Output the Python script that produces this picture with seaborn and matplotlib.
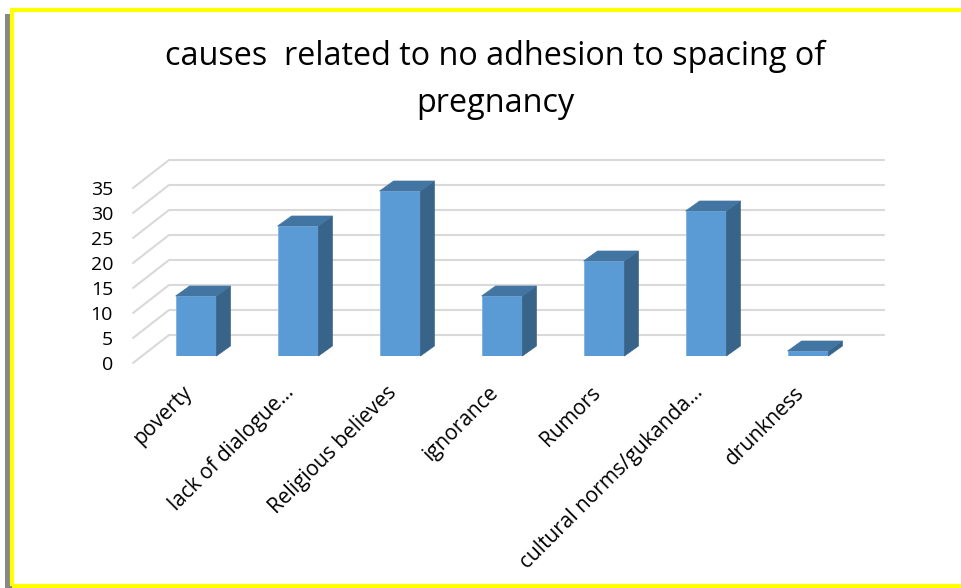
import matplotlib
matplotlib.use("Agg")
import matplotlib.pyplot as plt
import matplotlib.transforms as mtransforms
import seaborn as sns
import pandas as pd
from matplotlib.patches import Polygon, Rectangle

categories = ["poverty", "lack of dialogue…", "Religious believes", "ignorance",
              "Rumors", "cultural norms/gukanda…", "drunkness"]
values = [12, 26, 33, 12, 19, 29, 1]
yticks = [0, 5, 10, 15, 20, 25, 30, 35]
title = "causes  related to no adhesion to spacing of\npregnancy"

df = pd.DataFrame({"cause": categories, "count": values})

sns.set_style("white")
plt.rcParams["font.family"] = ["Open Sans", "DejaVu Sans"]
plt.rcParams["text.color"] = "black"
plt.rcParams["xtick.color"] = "black"
plt.rcParams["ytick.color"] = "black"

W, H = 962, 588
fig = plt.figure(figsize=(W / 100, H / 100), dpi=100)

# bar plane of the axes in pixels: x 145..859, y(0)=356, y(35)=181
ax = fig.add_axes([145 / W, (H - 356) / H, 714 / W, 175 / H])
ax.patch.set_alpha(0)
sns.barplot(data=df, x="cause", y="count", color="#5B9BD5", width=0.4,
            saturation=1, edgecolor="#7FB1E0", linewidth=0.6, ax=ax, zorder=3)
ax.set_xlim(-0.5, 6.5)
ax.set_ylim(0, 35)

px_x = 7 / 714   # data units per pixel
px_y = 35 / 175

# floor / back-wall gridlines (Excel 3-D look)
front_dy = -7 * px_y
gdx, gdy = 36 * px_x, 28 * px_y
x0 = -0.5 - 12 * px_x
x1 = -0.5 + (884 - 145) * px_x
for v in yticks:
    ax.plot([x0, x0 + gdx, x1], [v + front_dy, v + front_dy + gdy, v + front_dy + gdy],
            color="#D9D9D9", lw=1.5, clip_on=False, zorder=1)

# bar depth faces, derived from the seaborn patches
bdx, bdy = 14 * px_x, 10 * px_y
for p in ax.patches[:len(values)]:
    x, w, h = p.get_x(), p.get_width(), p.get_height()
    side = Polygon([(x + w, 0), (x + w + bdx, bdy), (x + w + bdx, h + bdy), (x + w, h)],
                   closed=True, facecolor="#386489", edgecolor="#386489", lw=0.5,
                   zorder=4, clip_on=False)
    top = Polygon([(x, h), (x + w, h), (x + w + bdx, h + bdy), (x + bdx, h + bdy)],
                  closed=True, facecolor="#4375A3", edgecolor="#4375A3", lw=0.5,
                  zorder=4, clip_on=False)
    ax.add_patch(side)
    ax.add_patch(top)

ax.set_yticks(yticks)
ax.set_yticklabels([str(t) for t in yticks], fontsize=14)
ax.tick_params(axis="y", length=0, pad=23)
ax.tick_params(axis="x", length=0, pad=8)
yshift = mtransforms.ScaledTranslation(0, -7 / 100, fig.dpi_scale_trans)
for lab in ax.get_yticklabels():
    lab.set_transform(lab.get_transform() + yshift)
xshift = mtransforms.ScaledTranslation(-14 / 100, -15 / 100, fig.dpi_scale_trans)
for lab in ax.get_xticklabels():
    lab.set_rotation(45)
    lab.set_ha("right")
    lab.set_rotation_mode("anchor")
    lab.set_fontsize(15)
    lab.set_transform(lab.get_transform() + xshift)
ax.set_xlabel("")
ax.set_ylabel("")
sns.despine(ax=ax, left=True, bottom=True)

fig.text(495 / W, 1 - 80 / H, title, ha="center", va="center", fontsize=23.3,
         linespacing=1.55)

# yellow frame with a dark left shadow
fig.patches.append(Rectangle((5 / W, 0), 7 / W, 1 - 14 / H, transform=fig.transFigure,
                             facecolor="#555555", edgecolor="none", alpha=0.7, zorder=0))
fig.patches.append(Rectangle((12 / W, 2 / H), 1.2, 1 - 12 / H, transform=fig.transFigure,
                             facecolor="none", edgecolor="#FFFF00", lw=3, zorder=0))

fig.savefig("out.png", dpi=100)
